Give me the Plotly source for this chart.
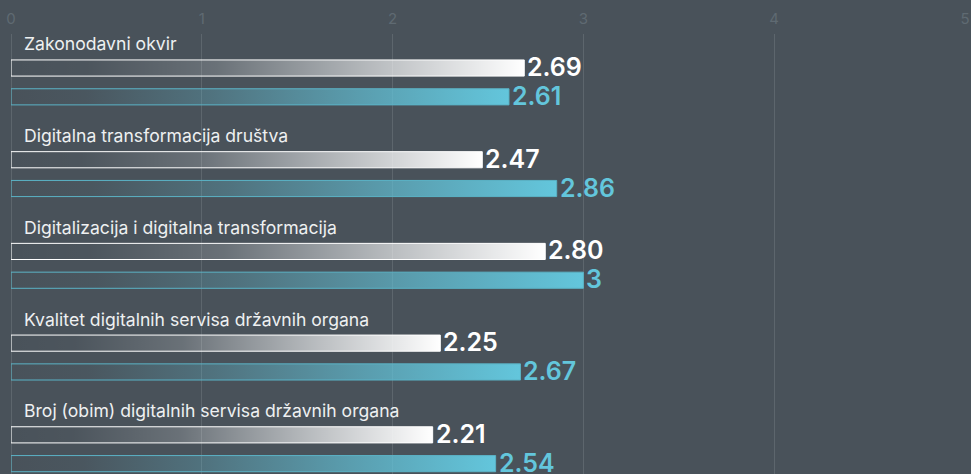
import plotly.graph_objects as go

categories = [
    "Zakonodavni okvir",
    "Digitalna transformacija društva",
    "Digitalizacija i digitalna transformacija",
    "Kvalitet digitalnih servisa državnih organa",
    "Broj (obim) digitalnih servisa državnih organa",
]
series_a = [2.69, 2.47, 2.80, 2.25, 2.21]
series_b = [2.61, 2.86, 3.00, 2.67, 2.54]
labels_a = ["2.69", "2.47", "2.80", "2.25", "2.21"]
labels_b = ["2.61", "2.86", "3", "2.67", "2.54"]
x_ticks = [0, 1, 2, 3, 4, 5]

BG = "#49525a"
GRID = "#5d666d"
WHITE = "#ffffff"
CYAN = "#63c6dc"
CYAN_LINE = "#5bb3c6"

OFF = 0.157      # offset of each bar from the category centre (in slot units)
HALF = 0.088     # half bar thickness
LABEL_OFF = -0.42

grad_white = [[0.0, "rgba(255,255,255,0)"], [0.15, "rgba(255,255,255,0.02)"],
              [0.4, "rgba(255,255,255,0.18)"], [0.7, "rgba(255,255,255,0.6)"],
              [1.0, "rgba(255,255,255,1)"]]
grad_cyan = [[0.0, "rgba(99,198,220,0)"], [0.15, "rgba(99,198,220,0.04)"],
             [0.4, "rgba(99,198,220,0.28)"], [0.7, "rgba(99,198,220,0.65)"],
             [1.0, "rgba(99,198,220,1)"]]

fig = go.Figure()
annotations = []

for i, cat in enumerate(categories):
    for val, lab, off, grad, lc, tc in [
        (series_a[i], labels_a[i], -OFF, grad_white, WHITE, WHITE),
        (series_b[i], labels_b[i], OFF, grad_cyan, CYAN_LINE, CYAN),
    ]:
        yc = i + off
        fig.add_trace(go.Scatter(
            x=[0, val, val, 0, 0],
            y=[yc - HALF, yc - HALF, yc + HALF, yc + HALF, yc - HALF],
            mode="lines",
            fill="toself",
            fillgradient=dict(type="horizontal", colorscale=grad),
            line=dict(color=lc, width=1),
            hoverinfo="skip",
            showlegend=False,
        ))
        annotations.append(dict(
            x=val, y=yc, xref="x", yref="y", text=lab, showarrow=False,
            xanchor="left", yanchor="middle", xshift=1, yshift=1,
            font=dict(family="Inter", size=25, color=tc, weight=600),
        ))
    annotations.append(dict(
        x=0, y=i + LABEL_OFF, xref="x", yref="y", text=cat, showarrow=False,
        xanchor="left", yanchor="middle", xshift=11,
        font=dict(family="Inter", size=17.6, color="#eef0f1"),
    ))

fig.update_layout(
    width=971, height=474,
    margin=dict(l=11, r=6, t=34, b=0),
    paper_bgcolor=BG, plot_bgcolor=BG,
    annotations=annotations,
    xaxis=dict(
        range=[0, 5], side="top", tickvals=x_ticks,
        showgrid=True, gridcolor=GRID, gridwidth=1,
        zeroline=True, zerolinecolor=GRID, zerolinewidth=1,
        showline=False, ticks="", ticklabelstandoff=6,
        tickfont=dict(family="Inter", size=15, color="#5f6a72"),
        fixedrange=True,
    ),
    yaxis=dict(
        range=[4.27, -0.528], showgrid=False, zeroline=False,
        showticklabels=False, fixedrange=True,
    ),
)

fig.write_html(
    "out.html",
    config={"displayModeBar": False},
    post_script="document.body.style.margin='0';document.body.style.background='%s';" % BG,
)
